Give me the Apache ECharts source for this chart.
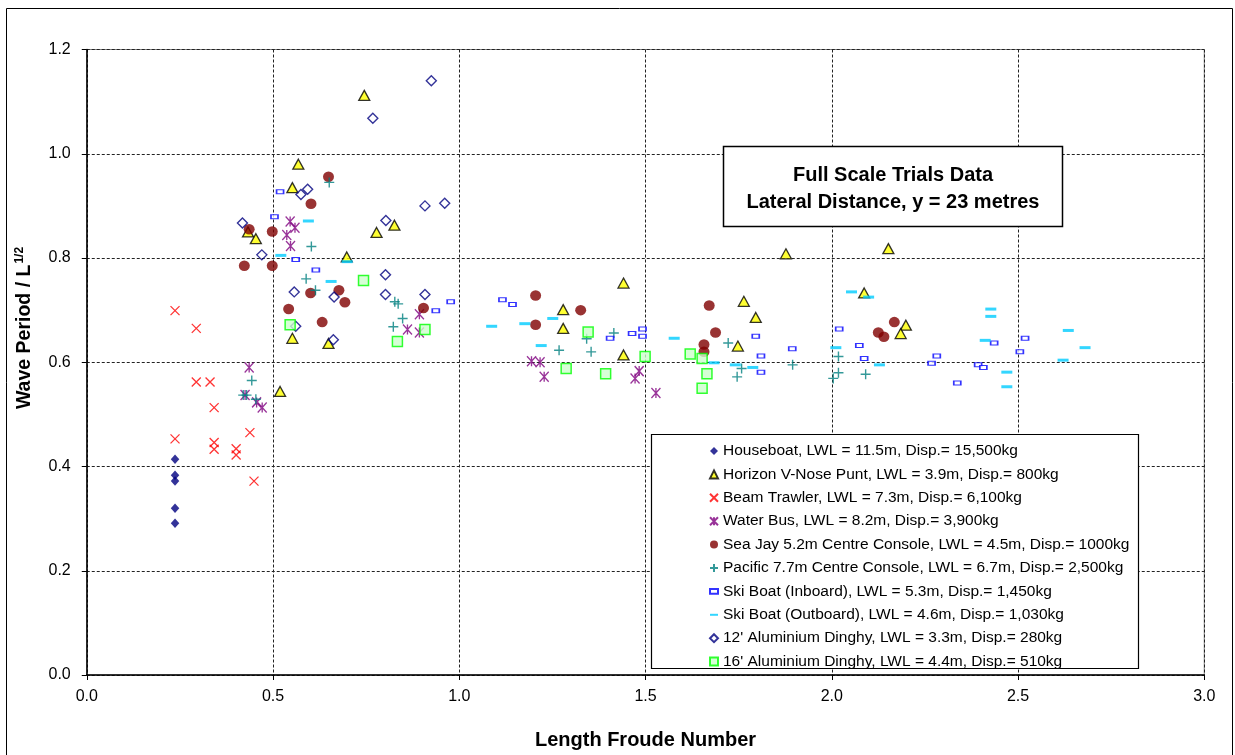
<!DOCTYPE html>
<html>
<head>
<meta charset="utf-8">
<title>Full Scale Trials Data</title>
<script src="https://cdn.jsdelivr.net/npm/echarts@6/dist/echarts.min.js"></script>
<style>
  html, body { margin: 0; padding: 0; background: #ffffff; }
  #chart { width: 1235px; height: 755px; }
</style>
</head>
<body>
<div id="chart"></div>
<script>
// Wave period / sqrt(L) against length Froude number, lateral distance 23 m
const xTicks = [0, 0.5, 1.0, 1.5, 2.0, 2.5, 3.0];
const yTicks = [0, 0.2, 0.4, 0.6, 0.8, 1.0, 1.2];

const seriesNames = [
  'Houseboat, LWL = 11.5m, Disp.= 15,500kg',
  'Horizon V-Nose Punt, LWL = 3.9m, Disp.= 800kg',
  'Beam Trawler, LWL = 7.3m, Disp.= 6,100kg',
  'Water Bus, LWL = 8.2m, Disp.= 3,900kg',
  'Sea Jay 5.2m Centre Console, LWL = 4.5m, Disp.= 1000kg',
  'Pacific 7.7m Centre Console, LWL = 6.7m, Disp.= 2,500kg',
  'Ski Boat (Inboard), LWL = 5.3m, Disp.= 1,450kg',
  'Ski Boat (Outboard), LWL = 4.6m, Disp.= 1,030kg',
  "12' Aluminium Dinghy, LWL = 3.3m, Disp.= 280kg",
  "16' Aluminium Dinghy, LWL = 4.4m, Disp.= 510kg"
];

// [Froude number, wave period / L^0.5]
const houseboat = [[0.237,0.414],[0.237,0.383],[0.237,0.372],[0.237,0.320],[0.237,0.291]];
const horizonPunt = [[0.745,1.112],[0.568,0.980],[0.552,0.935],[0.433,0.850],[0.454,0.837],[0.778,0.849],
  [0.826,0.863],[0.698,0.802],[0.552,0.646],[0.649,0.636],[0.519,0.544],[1.441,0.752],[1.279,0.701],
  [1.279,0.665],[1.441,0.614],[1.877,0.808],[1.764,0.717],[1.796,0.686],[1.748,0.631],[2.152,0.818],
  [2.087,0.733],[2.199,0.671],[2.185,0.655]];
const beamTrawler = [[0.237,0.699],[0.294,0.665],[0.294,0.562],[0.331,0.562],[0.342,0.513],[0.237,0.453],
  [0.342,0.446],[0.342,0.433],[0.401,0.434],[0.401,0.422],[0.438,0.465],[0.449,0.372]];
const waterBus = [[0.436,0.590],[0.425,0.537],[0.456,0.523],[0.471,0.513],[0.546,0.870],[0.559,0.858],
  [0.537,0.844],[0.547,0.823],[0.893,0.692],[0.861,0.663],[0.893,0.657],[1.194,0.602],[1.217,0.600],
  [1.228,0.572],[1.483,0.583],[1.472,0.569],[1.528,0.541]];
const seaJay = [[0.649,0.956],[0.602,0.904],[0.436,0.855],[0.498,0.851],[0.423,0.785],[0.498,0.785],
  [0.601,0.733],[0.677,0.738],[0.693,0.715],[0.542,0.702],[0.632,0.677],[0.904,0.704],[1.205,0.728],
  [1.326,0.700],[1.205,0.672],[1.671,0.709],[1.688,0.657],[1.657,0.634],[1.657,0.620],[2.168,0.677],
  [2.125,0.657],[2.140,0.649]];
const pacific = [[0.651,0.945],[0.603,0.822],[0.589,0.760],[0.614,0.738],[0.827,0.716],[0.836,0.712],
  [0.823,0.668],[0.848,0.684],[0.443,0.565],[0.420,0.537],[0.429,0.537],[0.454,0.529],[1.268,0.623],
  [1.342,0.645],[1.354,0.620],[1.415,0.656],[1.722,0.637],[1.758,0.588],[1.746,0.572],[1.895,0.595],
  [2.018,0.611],[2.018,0.580],[2.004,0.569],[2.091,0.577]];
const skiInboard = [[0.519,0.927],[0.504,0.879],[0.561,0.797],[0.615,0.777],[0.977,0.716],[0.937,0.699],
  [1.116,0.720],[1.143,0.711],[1.405,0.646],[1.464,0.655],[1.492,0.664],[1.492,0.650],[1.796,0.650],
  [1.810,0.612],[1.894,0.626],[1.810,0.581],[2.020,0.664],[2.074,0.632],[2.087,0.607],[2.282,0.612],
  [2.268,0.598],[2.337,0.560],[2.436,0.637],[2.393,0.595],[2.407,0.590],[2.519,0.646],[2.505,0.620]];
const skiOutboard = [[0.595,0.871],[0.521,0.805],[0.656,0.755],[0.699,0.793],[1.087,0.669],[1.176,0.674],
  [1.251,0.684],[1.220,0.632],[1.577,0.646],[1.684,0.599],[1.741,0.595],[1.788,0.590],[2.053,0.735],
  [2.099,0.725],[2.011,0.628],[2.128,0.595],[2.427,0.702],[2.427,0.688],[2.412,0.642],[2.470,0.581],
  [2.470,0.553],[2.635,0.661],[2.680,0.628],[2.621,0.604]];
const dinghy12 = [[0.768,1.068],[0.593,0.932],[0.575,0.922],[0.418,0.867],[0.803,0.872],[0.470,0.806],
  [0.802,0.768],[0.557,0.735],[0.664,0.725],[0.802,0.730],[0.561,0.669],[0.662,0.643],[0.925,1.140],
  [0.908,0.900],[0.961,0.905],[0.908,0.730]];
const dinghy16 = [[0.743,0.757],[0.546,0.672],[0.834,0.640],[0.908,0.663],[1.346,0.658],[1.287,0.588],
  [1.393,0.578],[1.499,0.611],[1.620,0.616],[1.652,0.607],[1.665,0.578],[1.652,0.550]];

const FONT = '"Liberation Sans", Arial, sans-serif';

// marker shapes
const crossPath = 'path://M0,0L10,10M10,0L0,10';
const starPath = 'path://M0,0L10,10M10,0L0,10M5,0L5,10';
const plusPath = 'path://M5,0L5,10M0,5L10,5';
const inboardPath = 'path://M0,0H7V4H0Z';
const outboardPath = 'path://M0,0H12V3H0Z';

function scatter(name, data, symbol, size, itemStyle) {
  return {
    type: 'scatter', name: name, data: data,
    symbol: symbol, symbolSize: size,
    itemStyle: itemStyle,
    emphasis: { disabled: true },
    animation: false
  };
}

const series = [
  scatter(seriesNames[0], houseboat, 'diamond', [8.5, 9.5], { color: '#000080' }),
  scatter(seriesNames[1], horizonPunt, 'triangle', [11, 10], { color: '#FFFF00', borderColor: '#000000', borderWidth: 1.3 }),
  scatter(seriesNames[2], beamTrawler, crossPath, [9, 9], { color: 'rgba(0,0,0,0)', borderColor: '#FF0000', borderWidth: 1.3 }),
  scatter(seriesNames[3], waterBus, starPath, [9, 10], { color: 'rgba(0,0,0,0)', borderColor: '#800080', borderWidth: 1.4 }),
  scatter(seriesNames[4], seaJay, 'circle', [11, 10.5], { color: '#800000' }),
  scatter(seriesNames[5], pacific, plusPath, [10, 10], { color: 'rgba(0,0,0,0)', borderColor: '#008080', borderWidth: 1.4 }),
  scatter(seriesNames[6], skiInboard, inboardPath, [7, 4], { color: '#FFFFFF', borderColor: '#0000FF', borderWidth: 1.3 }),
  scatter(seriesNames[7], skiOutboard, outboardPath, [11, 3], { color: '#00CCFF' }),
  scatter(seriesNames[8], dinghy12, 'diamond', [10, 10], { color: 'rgba(0,0,0,0)', borderColor: '#000080', borderWidth: 1.4 }),
  scatter(seriesNames[9], dinghy16, 'rect', [10, 10], { color: '#CCFFCC', borderColor: '#00FF00', borderWidth: 1.5 })
];

const chart = echarts.init(document.getElementById('chart'), null, { renderer: 'canvas' });

chart.setOption({
  backgroundColor: '#ffffff',
  animation: false,
  textStyle: { fontFamily: FONT },
  grid: {
    left: 86.75, right: 30.75, top: 49.5, bottom: 78,
    show: true, borderColor: '#808080', borderWidth: 1, backgroundColor: 'transparent'
  },
  xAxis: {
    type: 'value', min: xTicks[0], max: xTicks[xTicks.length - 1], interval: 0.5,
    axisLine: { show: true, onZero: false, lineStyle: { color: '#000000', width: 1.5 } },
    axisTick: { show: true, length: 5, lineStyle: { color: '#000000' } },
    axisLabel: { color: '#000000', fontSize: 16, fontFamily: FONT, margin: 14, formatter: v => v.toFixed(1) },
    splitLine: { show: true, lineStyle: { color: '#222222', width: 1, type: [3, 2] } },
    name: 'Length Froude Number', nameLocation: 'middle', nameGap: 55,
    nameTextStyle: { color: '#000000', fontSize: 20, fontWeight: 'bold', fontFamily: FONT }
  },
  yAxis: {
    type: 'value', min: yTicks[0], max: yTicks[yTicks.length - 1], interval: 0.2,
    axisLine: { show: true, onZero: false, lineStyle: { color: '#000000', width: 1.5 } },
    axisTick: { show: true, length: 5, lineStyle: { color: '#000000' } },
    axisLabel: { color: '#000000', fontSize: 16, fontFamily: FONT, margin: 16, formatter: v => v.toFixed(1) },
    splitLine: { show: true, lineStyle: { color: '#222222', width: 1, type: [3, 2] } }
  },
  legend: {
    orient: 'vertical', left: 704, top: 438,
    itemWidth: 8, itemHeight: 8, itemGap: 7.4,
    data: seriesNames,
    textStyle: { color: '#000000', fontSize: 15.5, fontFamily: FONT, lineHeight: 16 },
    selectedMode: false, z: 20
  },
  graphic: [
    // chart frame
    { type: 'rect', shape: { x: 6.5, y: 8.5, width: 1226, height: 760 },
      style: { fill: 'none', stroke: '#000000', lineWidth: 1 }, silent: true, z: 0 },
    // legend frame
    { type: 'rect', shape: { x: 651.5, y: 434.5, width: 487, height: 234 },
      style: { fill: '#ffffff', stroke: '#000000', lineWidth: 1.2 }, silent: true, z: 10 },
    // annotation box
    { type: 'rect', shape: { x: 723.5, y: 146.5, width: 339, height: 80 },
      style: { fill: '#ffffff', stroke: '#000000', lineWidth: 1.5 }, silent: true, z: 10 },
    { type: 'text', x: 893, y: 175.5, silent: true, z: 11,
      style: { text: 'Full Scale Trials Data', fill: '#000000', font: 'bold 20px ' + FONT,
        textAlign: 'center', textVerticalAlign: 'middle' } },
    { type: 'text', x: 893, y: 202, silent: true, z: 11,
      style: { text: 'Lateral Distance, y = 23 metres', fill: '#000000', font: 'bold 20px ' + FONT,
        textAlign: 'center', textVerticalAlign: 'middle' } },
    // y-axis title with superscript exponent
    { type: 'text', x: 25, y: 328, rotation: Math.PI / 2, silent: true, z: 11,
      style: {
        text: '{b|Wave Period / L}{s|1/2}',
        align: 'center', verticalAlign: 'middle',
        rich: {
          b: { fontSize: 19.5, fontWeight: 'bold', fontFamily: FONT, fill: '#000000', color: '#000000' },
          s: { fontSize: 12, fontWeight: 'bold', fontFamily: FONT, fill: '#000000', color: '#000000', padding: [0, 0, 11, 1] }
        }
      } }
  ],
  series: series
});
</script>
</body>
</html>
